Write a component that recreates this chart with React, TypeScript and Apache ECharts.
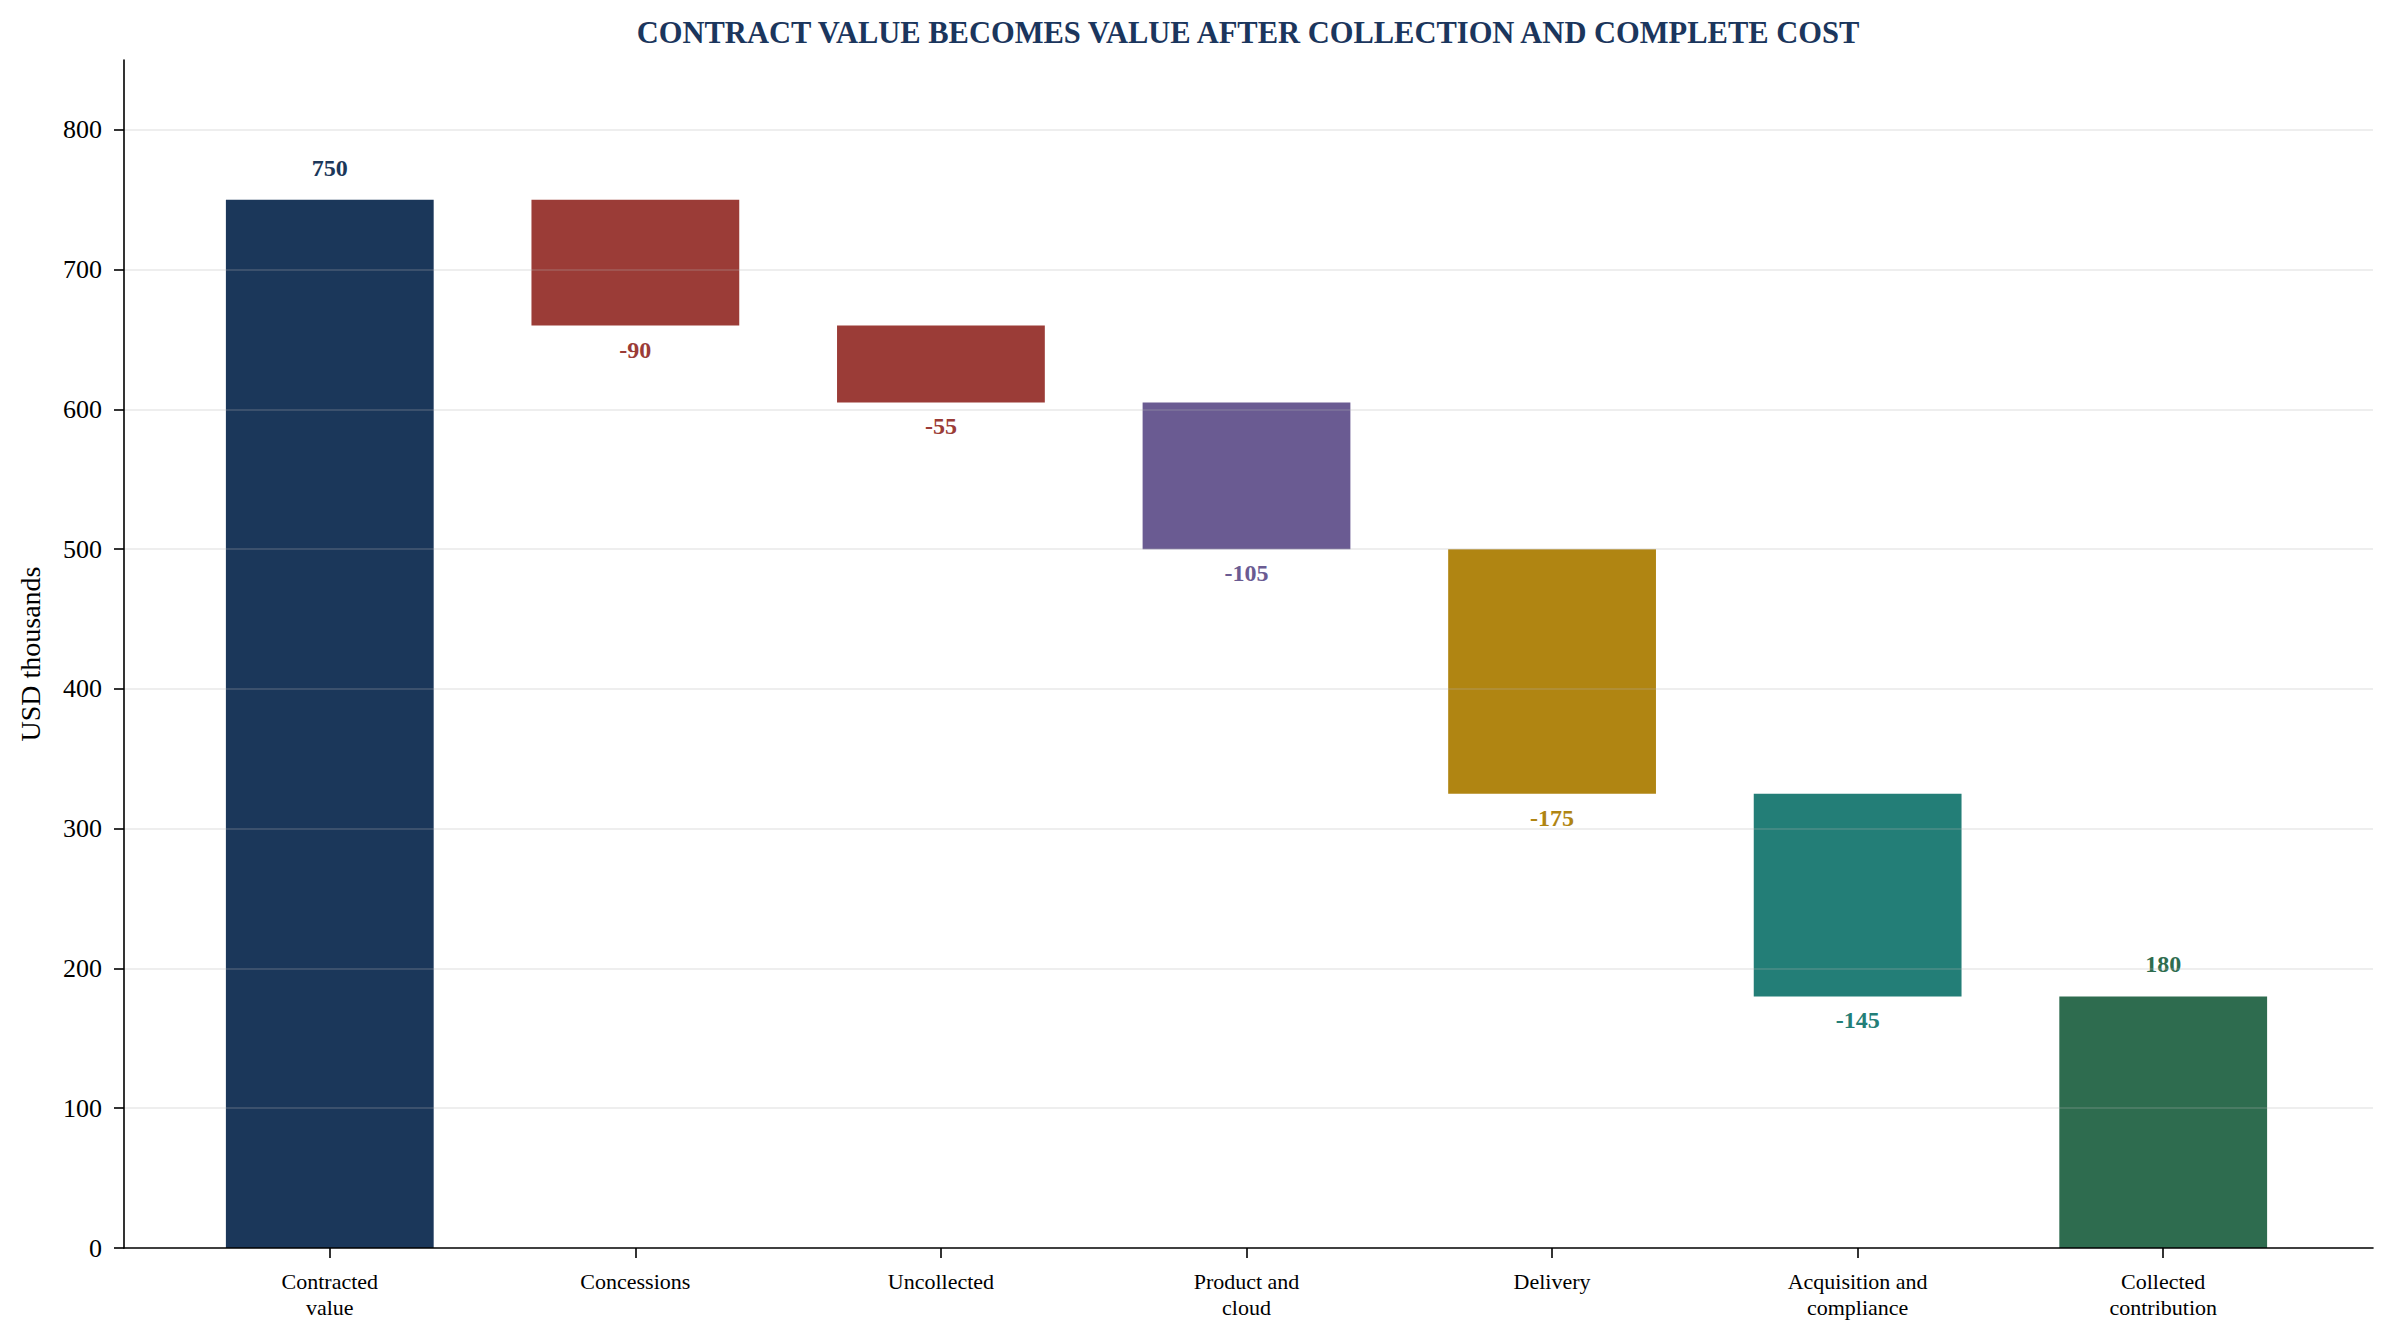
import React, { useEffect, useRef } from "react";
import * as echarts from "echarts";

const TITLE = "CONTRACT VALUE BECOMES VALUE AFTER COLLECTION AND COMPLETE COST";
const Y_NAME = "USD thousands";
const categories = [
  "Contracted\nvalue",
  "Concessions",
  "Uncollected",
  "Product and\ncloud",
  "Delivery",
  "Acquisition and\ncompliance",
  "Collected\ncontribution",
];
const changes = [750, -90, -55, -105, -175, -145, 180];
const kinds = ["total", "delta", "delta", "delta", "delta", "delta", "total"];
const barColors = ["#1b375a", "#9b3c37", "#9b3c37", "#6a5b92", "#b08512", "#237e77", "#2e6c4f"];
const yTicks = [0, 100, 200, 300, 400, 500, 600, 700, 800];

const FONT = '"Liberation Serif", "Times New Roman", serif';

export default function App() {
  const ref = useRef<HTMLDivElement>(null);
  useEffect(() => {
    document.body.style.margin = "0";
    if (!ref.current) return;
    const chart = echarts.init(ref.current, null, { renderer: "svg" });

    const baseData: number[] = [];
    const barData: any[] = [];
    let running = 0;
    changes.forEach((v, i) => {
      if (kinds[i] === "total") {
        running = v;
        baseData.push(0);
        barData.push({
          value: v,
          itemStyle: { color: barColors[i] },
          label: { position: "top", distance: 20, color: barColors[i] },
        });
      } else {
        running += v;
        baseData.push(running);
        barData.push({
          value: -v,
          itemStyle: { color: barColors[i] },
          label: { position: "bottom", distance: 12, color: barColors[i] },
        });
      }
    });

    const option: any = {
      animation: false,
      backgroundColor: "#ffffff",
      textStyle: { fontFamily: FONT },
      graphic: [
        {
          type: "text",
          x: 1248,
          y: 33,
          style: {
            text: TITLE,
            fill: "#1b365d",
            font: `bold 30.5px ${FONT}`,
            textAlign: "center",
            textVerticalAlign: "middle",
          },
        },
      ],
      grid: [
        { left: 124, right: 20, top: 60, bottom: 92, containLabel: false },
        { left: 177, right: 77, top: 60, bottom: 92, containLabel: false },
      ],
      xAxis: [
        {
          type: "value",
          gridIndex: 0,
          min: 0,
          max: 1,
          axisLine: { show: true, lineStyle: { color: "#000", width: 1.6 } },
          axisTick: { show: false },
          axisLabel: { show: false },
          splitLine: { show: false },
          z: 11,
        },
        {
          type: "category",
          gridIndex: 1,
          data: categories,
          boundaryGap: true,
          axisLine: { show: false },
          axisTick: {
            show: true,
            alignWithLabel: true,
            length: 10,
            lineStyle: { color: "#000", width: 1.6 },
          },
          axisLabel: {
            color: "#000",
            fontFamily: FONT,
            fontSize: 22,
            lineHeight: 26,
            margin: 20,
            interval: 0,
          },
        },
      ],
      yAxis: [
        {
          type: "value",
          gridIndex: 0,
          min: 0,
          max: 850,
          interval: 100,
          z: 10,
          name: Y_NAME,
          nameLocation: "middle",
          nameGap: 80,
          nameTextStyle: { color: "#000", fontFamily: FONT, fontSize: 28 },
          axisLine: { show: true, lineStyle: { color: "#000", width: 1.6 } },
          axisTick: {
            show: true,
            length: 10,
            lineStyle: { color: "#000", width: 1.6 },
            customValues: yTicks,
          },
          axisLabel: {
            color: "#000",
            fontFamily: FONT,
            fontSize: 26,
            margin: 22,
            customValues: yTicks,
          },
          splitLine: {
            show: true,
            showMinLine: false,
            lineStyle: { color: "rgba(176,176,176,0.22)", width: 2 },
          },
        },
        {
          type: "value",
          gridIndex: 1,
          min: 0,
          max: 850,
          show: false,
          splitLine: { show: false },
        },
      ],
      series: [
        {
          type: "bar",
          name: "base",
          xAxisIndex: 1,
          yAxisIndex: 1,
          stack: "w",
          barWidth: "68%",
          itemStyle: { color: "transparent" },
          emphasis: { disabled: true },
          silent: true,
          data: baseData,
        },
        {
          type: "bar",
          name: "change",
          xAxisIndex: 1,
          yAxisIndex: 1,
          stack: "w",
          barWidth: "68%",
          label: {
            show: true,
            fontFamily: FONT,
            fontSize: 24,
            fontWeight: "bold",
            formatter: (p: any) => String(changes[p.dataIndex]),
          },
          data: barData,
        },
      ],
    };
    chart.setOption(option);
    return () => chart.dispose();
  }, []);
  return <div ref={ref} style={{ width: 2393, height: 1340 }} />;
}
